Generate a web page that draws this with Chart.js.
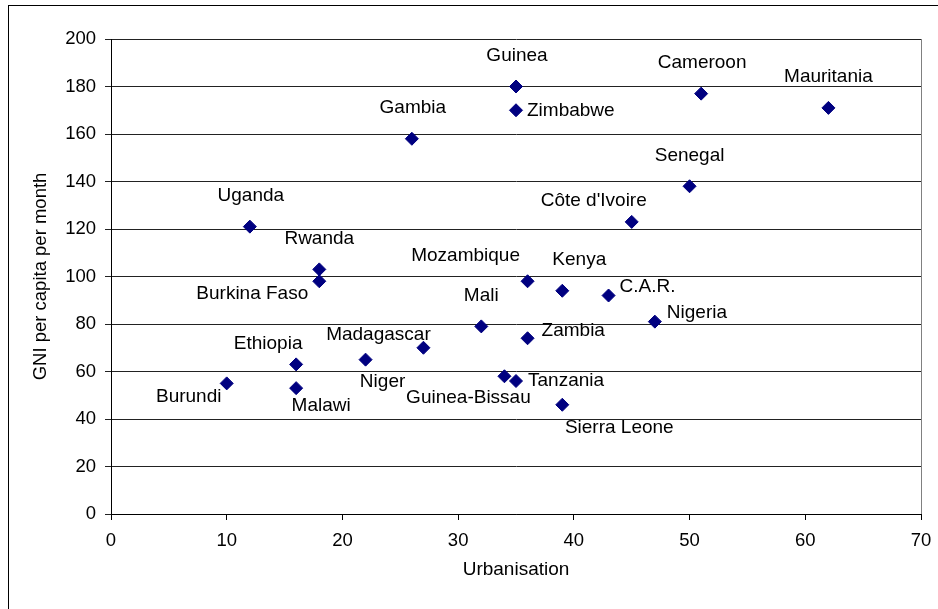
<!DOCTYPE html>
<html>
<head>
<meta charset="utf-8">
<title>GNI per capita vs urbanisation</title>
<script src="https://cdn.jsdelivr.net/npm/chart.js@4/dist/chart.umd.min.js"></script>
<style>
  html, body { margin: 0; padding: 0; background: #fff; }
  #chart { display: block; }
</style>
</head>
<body>
<canvas id="chart" width="938" height="609"></canvas>
<script>
// data
const countries = ["Uganda", "Rwanda", "Burkina Faso", "Burundi", "Ethiopia", "Malawi", "Niger", "Madagascar",
  "Gambia", "Guinea", "Zimbabwe", "Mali", "Guinea-Bissau", "Tanzania", "Mozambique", "Zambia", "Kenya",
  "Sierra Leone", "C.A.R.", "Côte d'Ivoire", "Nigeria", "Senegal", "Cameroon", "Mauritania"];
const urbanisation = [12, 18, 18, 10, 16, 16, 22, 27, 26, 35, 35, 32, 34, 35, 36, 36, 39, 39, 43, 45, 47, 50, 51, 62];
const gniPerMonth = [121, 103, 98, 55, 63, 53, 65, 70, 158, 180, 170, 79, 58, 56, 98, 74, 94, 46, 92, 123, 81, 138, 177, 171];
const xTicks = [0, 10, 20, 30, 40, 50, 60, 70];
const yTicks = [0, 20, 40, 60, 80, 100, 120, 140, 160, 180, 200];

// where each data label sits relative to its marker (dx, dy, align)
const labelPlacement = {
  "Uganda": [1, -31, "center"], "Rwanda": [0, -31, "center"], "Burkina Faso": [-67, 13, "center"],
  "Burundi": [-38, 13, "center"], "Ethiopia": [-28, -21, "center"], "Malawi": [25, 18, "center"],
  "Niger": [17, 22, "center"], "Madagascar": [-45, -13, "center"], "Gambia": [1, -31, "center"],
  "Guinea": [1, -31, "center"], "Zimbabwe": [11, 1, "left"], "Mali": [0, -31, "center"],
  "Guinea-Bissau": [-36, 22, "center"], "Tanzania": [12, 0, "left"], "Mozambique": [-62, -25, "center"],
  "Zambia": [14, -7, "left"], "Kenya": [17, -31, "center"], "Sierra Leone": [57, 23, "center"],
  "C.A.R.": [11, -9, "left"], "Côte d'Ivoire": [-38, -21, "center"], "Nigeria": [12, -9, "left"],
  "Senegal": [0, -30, "center"], "Cameroon": [1, -31, "center"], "Mauritania": [0, -31, "center"]
};

const FONT = "'Liberation Sans', Arial, sans-serif";
const NAVY = "#000080";

let points = urbanisation.map((u, i) => ({ x: u, y: gniPerMonth[i] }));

const framePlugin = {
  id: "frame",
  beforeDraw(chart) {
    let ctx = chart.ctx;
    ctx.save();
    ctx.fillStyle = "#fff";
    ctx.fillRect(0, 0, chart.width, chart.height);
    ctx.strokeStyle = "#000";
    ctx.lineWidth = 1;
    ctx.strokeRect(8.5, 5.5, chart.width + 10, chart.height + 10);
    ctx.restore();
  },
  beforeDatasetsDraw(chart) {
    let a = chart.chartArea;
    let ctx = chart.ctx;
    ctx.save();
    ctx.strokeStyle = "#808080";
    ctx.lineWidth = 1;
    ctx.beginPath();
    ctx.moveTo(Math.round(a.right) + 0.5, a.top);
    ctx.lineTo(Math.round(a.right) + 0.5, a.bottom);
    ctx.stroke();
    ctx.restore();
  }
};

const labelPlugin = {
  id: "pointLabels",
  afterDatasetsDraw(chart) {
    let ctx = chart.ctx;
    let meta = chart.getDatasetMeta(0);
    ctx.save();
    ctx.font = "19px " + FONT;
    ctx.fillStyle = "#000";
    ctx.textBaseline = "middle";
    meta.data.forEach((pt, i) => {
      let name = countries[i];
      let p = labelPlacement[name] || [0, -30, "center"];
      ctx.textAlign = p[2];
      ctx.fillText(name, pt.x + p[0], pt.y + p[1]);
    });
    ctx.restore();
  }
};

new Chart(document.getElementById("chart"), {
  type: "scatter",
  data: {
    datasets: [{
      label: "GNI per capita per month",
      data: points,
      pointStyle: "rectRot",
      pointRadius: 6.5,
      pointHoverRadius: 6.5,
      pointBackgroundColor: NAVY,
      pointBorderColor: NAVY,
      pointBorderWidth: 1
    }]
  },
  options: {
    responsive: false,
    animation: false,
    layout: { padding: { top: 39, right: 17, left: 26, bottom: 0 } },
    plugins: {
      legend: { display: false },
      tooltip: { enabled: false }
    },
    scales: {
      x: {
        type: "linear",
        min: 0,
        max: 70,
        afterBuildTicks: s => { s.ticks = xTicks.map(v => ({ value: v })); },
        afterFit: s => { s.height = 95; s.paddingLeft = 0; s.paddingRight = 0; },
        ticks: { color: "#000", font: { family: FONT, size: 18.5 }, padding: 10 },
        grid: { drawOnChartArea: false, drawTicks: true, tickLength: 6, color: "#000" },
        border: { color: "#000", width: 1 },
        title: {
          display: true,
          text: "Urbanisation",
          color: "#000",
          font: { family: FONT, size: 19 },
          padding: { top: 0, bottom: 28 }
        }
      },
      y: {
        min: 0,
        max: 200,
        afterBuildTicks: s => { s.ticks = yTicks.map(v => ({ value: v })); },
        afterFit: s => { s.width = 85; },
        ticks: { color: "#000", font: { family: FONT, size: 18.5 }, padding: 9 },
        grid: { color: "#222", tickLength: 6 },
        border: { color: "#000", width: 1 },
        title: {
          display: true,
          text: "GNI per capita per month",
          color: "#000",
          font: { family: FONT, size: 18.5 },
          padding: { top: 4, bottom: 4 }
        }
      }
    }
  },
  plugins: [framePlugin, labelPlugin]
});
</script>
</body>
</html>
